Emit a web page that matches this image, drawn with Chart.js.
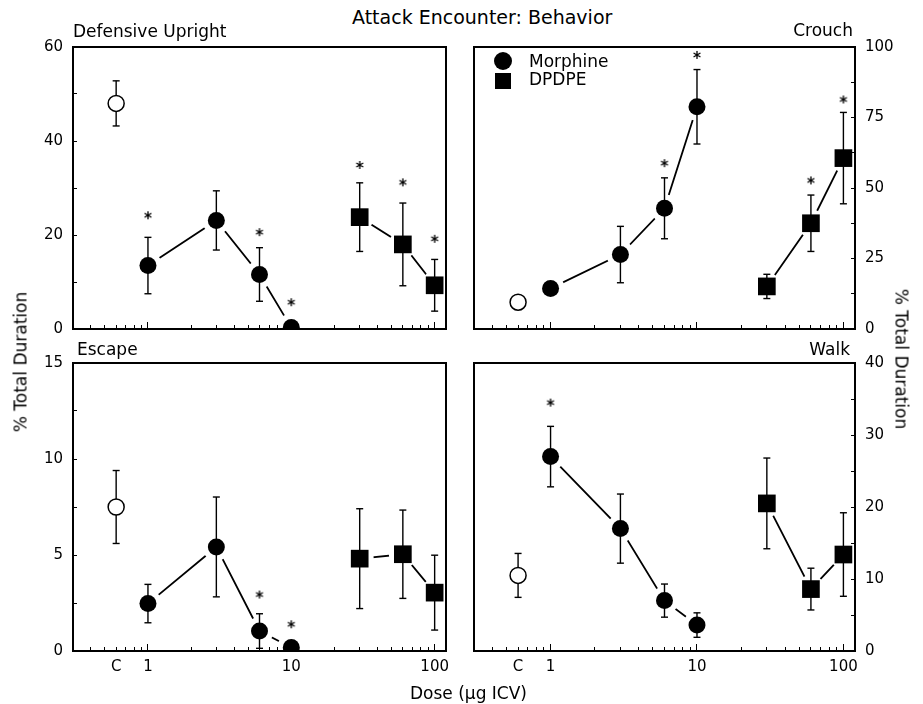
<!DOCTYPE html>
<html>
<head>
<meta charset="utf-8">
<title>Attack Encounter: Behavior</title>
<script src="https://cdn.jsdelivr.net/npm/chart.js@4.4.0/dist/chart.umd.min.js"></script>
<style>
  body { margin: 0; background: #fff; }
  #fig { position: relative; width: 923px; height: 704px; overflow: hidden;
         font-family: "DejaVu Sans", Verdana, sans-serif; color: #000; }
  #fig canvas { position: absolute; }
  .txt { position: absolute; white-space: nowrap; line-height: 1; font-size: 17px; }
  .vert { transform: translate(-50%, -50%) rotate(-90deg); }
  .vert-r { transform: translate(-50%, -50%) rotate(90deg); }
  .mk { position: absolute; background: #000; }
</style>
</head>
<body>
<div id="fig">
  <canvas id="cDef" width="460" height="313" style="left:0;top:30px"></canvas>
  <canvas id="cCrouch" width="463" height="313" style="left:460px;top:30px"></canvas>
  <canvas id="cEscape" width="460" height="359" style="left:0;top:345px"></canvas>
  <canvas id="cWalk" width="463" height="359" style="left:460px;top:345px"></canvas>

  <div class="txt" style="left:352px;top:8px;font-size:19px">Attack Encounter: Behavior</div>
  <div class="txt" style="left:73px;top:23px">Defensive Upright</div>
  <div class="txt" style="right:70px;top:22px">Crouch</div>
  <div class="txt" style="left:77px;top:341px">Escape</div>
  <div class="txt" style="right:73px;top:341px">Walk</div>
  <div class="txt" style="left:410px;top:685px">Dose (µg ICV)</div>
  <div class="txt vert" style="left:21px;top:362px">% Total Duration</div>
  <div class="txt vert-r" style="left:901px;top:359px">% Total Duration</div>

  <!-- legend -->
  <div class="mk" style="left:494px;top:52px;width:18px;height:18px;border-radius:50%"></div>
  <div class="txt" style="left:529px;top:53px">Morphine</div>
  <div class="mk" style="left:495px;top:73px;width:16px;height:16px"></div>
  <div class="txt" style="left:529px;top:71px">DPDPE</div>
</div>

<script>
// doses (µg ICV); control plotted at the "C" position
const morphineDoses = [1, 3, 6, 10];
const dpdpeDoses = [30, 60, 100];
const controlDose = [0.6];

// x axis ticks (log scale), the longer decade ticks, and the labelled ones
const xTicks = [0.4, 0.5, 0.6, 0.7, 0.8, 0.9, 1, 2, 3, 4, 5, 6, 7, 8, 9,
  10, 20, 30, 40, 50, 60, 70, 80, 90, 100];
const xMajorTicks = [1, 10, 100];
const xLabelValues = [0.6, 1, 10, 100];
const xLabelTexts = ['C', '1', '10', '100'];

// Defensive Upright
const defControl = [48.0];
const defControlErr = [4.8];
const defMorphine = [13.5, 23.1, 11.6, 0.3];
const defMorphineErr = [6.0, 6.3, 5.7, 0];
const defDpdpe = [23.8, 18.0, 9.3];
const defDpdpeErr = [7.3, 8.8, 5.5];
const defStarDoses = [1, 6, 10, 30, 60, 100];
const defStarY = [24.2, 20.6, 5.7, 34.9, 31.2, 19.2];

// Crouch
const crouchControl = [9.5];
const crouchControlErr = [0];
const crouchMorphine = [14.4, 26.4, 42.8, 78.8];
const crouchMorphineErr = [0, 10.0, 10.8, 13.2];
const crouchDpdpe = [15.1, 37.5, 60.6];
const crouchDpdpeErr = [4.3, 10.0, 16.2];
const crouchStarDoses = [6, 10, 60, 100];
const crouchStarY = [58.8, 97.2, 52.7, 81.4];

// Escape
const escControl = [7.5];
const escControlErr = [1.9];
const escMorphine = [2.47, 5.42, 1.04, 0.18];
const escMorphineErr = [1.0, 2.6, 0.9, 0];
const escDpdpe = [4.81, 5.04, 3.04];
const escDpdpeErr = [2.6, 2.3, 1.95];
const escStarDoses = [6, 10];
const escStarY = [2.94, 1.39];

// Walk
const walkControl = [10.5];
const walkControlErr = [3.05];
const walkMorphine = [27.0, 17.0, 7.0, 3.6];
const walkMorphineErr = [4.2, 4.8, 2.3, 1.7];
const walkDpdpe = [20.5, 8.6, 13.4];
const walkDpdpeErr = [6.3, 2.9, 5.8];
const walkStarDoses = [1];
const walkStarY = [34.5];

const FONT = '"DejaVu Sans", Verdana, sans-serif';

function pts(xs, ys) {
  return xs.map((x, i) => ({ x: x, y: ys[i] }));
}

// vertical error bars as one broken line: low, high, gap
function errorBars(xs, ys, errs) {
  const out = [];
  xs.forEach((x, i) => {
    if (!errs[i]) return;
    out.push({ x: x, y: ys[i] - errs[i] }, { x: x, y: ys[i] + errs[i] }, { x: x, y: null });
  });
  return out;
}

// small six-spoke asterisk used as point style
function makeStar() {
  const c = document.createElement('canvas');
  c.width = 10; c.height = 10;
  const g = c.getContext('2d');
  g.strokeStyle = '#000';
  g.lineWidth = 1.3;
  g.beginPath();
  for (let k = 0; k < 3; k++) {
    const a = Math.PI / 2 + k * Math.PI / 3;
    g.moveTo(5 + 4 * Math.cos(a), 5 - 4 * Math.sin(a));
    g.lineTo(5 - 4 * Math.cos(a), 5 + 4 * Math.sin(a));
  }
  g.stroke();
  return c;
}
const star = makeStar();

const frame = {
  id: 'frame',
  afterDatasetsDraw(chart) {
    const { ctx, chartArea: a } = chart;
    ctx.save();
    ctx.strokeStyle = '#000';
    ctx.lineWidth = 2;
    ctx.strokeRect(a.left, a.top, a.right - a.left, a.bottom - a.top);
    ctx.restore();
  }
};

function buildPanel(id, p) {
  const errs = errorBars(controlDose, p.control, p.controlErr)
    .concat(errorBars(morphineDoses, p.morphine, p.morphineErr))
    .concat(errorBars(dpdpeDoses, p.dpdpe, p.dpdpeErr));

  const datasets = [
    // connecting lines; the white points leave a gap around each marker
    { label: 'm-line', data: pts(morphineDoses, p.morphine), borderColor: '#000', borderWidth: 1.8,
      pointRadius: 14, pointBackgroundColor: '#fff', pointBorderWidth: 0, order: 4 },
    { label: 'd-line', data: pts(dpdpeDoses, p.dpdpe), borderColor: '#000', borderWidth: 1.8,
      pointRadius: 14, pointBackgroundColor: '#fff', pointBorderWidth: 0, order: 4 },
    { label: 'err', data: errs, borderColor: '#000', borderWidth: 1.4, spanGaps: false,
      pointStyle: 'line', pointRadius: 3.5, pointBorderColor: '#000', pointBorderWidth: 1.4, order: 2 },
    { label: 'Morphine', data: pts(morphineDoses, p.morphine), showLine: false,
      pointStyle: 'circle', pointRadius: 8.5, pointBackgroundColor: '#000', pointBorderWidth: 0, order: 1 },
    { label: 'DPDPE', data: pts(dpdpeDoses, p.dpdpe), showLine: false,
      pointStyle: 'rect', pointRadius: 12.5, pointBackgroundColor: '#000', pointBorderWidth: 0, order: 1 },
    { label: 'Control', data: pts(controlDose, p.control), showLine: false,
      pointStyle: 'circle', pointRadius: 8, pointBackgroundColor: '#fff', pointBorderColor: '#000',
      pointBorderWidth: 1.5, order: 1 },
    { label: 'sig', data: pts(p.starDoses, p.starY), showLine: false,
      pointStyle: star, pointRadius: 5, order: 0 }
  ];

  new Chart(document.getElementById(id), {
    type: 'line',
    data: { datasets: datasets },
    plugins: [frame],
    options: {
      responsive: false,
      animation: false,
      devicePixelRatio: 1,
      events: [],
      layout: { padding: p.padding },
      plugins: { legend: { display: false }, tooltip: { enabled: false } },
      scales: {
        x: {
          type: 'logarithmic',
          min: 0.3,
          max: 120,
          afterBuildTicks: s => { s.ticks = xTicks.map(v => ({ value: v })); },
          afterFit: s => { s.height = p.xHeight; s.paddingLeft = 0; s.paddingRight = 0; },
          grid: { display: true, drawOnChartArea: false, tickLength: -4, color: '#000', z: 1 },
          border: { display: true, color: '#000', width: 2, z: 1 },
          ticks: {
            display: p.xLabels,
            autoSkip: false,
            maxRotation: 0,
            padding: 11,
            color: '#000',
            font: { family: FONT, size: 15 },
            callback: v => {
              const k = xLabelValues.indexOf(v);
              return k < 0 ? '' : xLabelTexts[k];
            }
          }
        },
        // second bottom axis that only draws the longer decade ticks
        xMajor: {
          type: 'logarithmic',
          position: 'bottom',
          weight: -1,
          min: 0.3,
          max: 120,
          afterBuildTicks: s => { s.ticks = xMajorTicks.map(v => ({ value: v })); },
          afterFit: s => { s.height = 0; s.paddingLeft = 0; s.paddingRight = 0; },
          grid: { display: true, drawOnChartArea: false, tickLength: -7, color: '#000', z: 1 },
          border: { display: false },
          ticks: { display: false }
        },
        y: {
          position: p.yPos,
          min: 0,
          max: p.yMax,
          afterFit: s => { s.width = p.yWidth; s.paddingTop = 0; s.paddingBottom = 0; },
          grid: { display: true, drawOnChartArea: false, tickLength: -4, color: '#000', z: 1 },
          border: { display: true, color: '#000', width: 2, z: 1 },
          ticks: {
            stepSize: p.yStep,
            autoSkip: false,
            padding: 14,
            color: '#000',
            font: { family: FONT, size: 15 },
            callback: v => (v % p.yLabelStep === 0 ? String(v) : '')
          }
        }
      }
    }
  });
}

buildPanel('cDef', {
  control: defControl, controlErr: defControlErr,
  morphine: defMorphine, morphineErr: defMorphineErr,
  dpdpe: defDpdpe, dpdpeErr: defDpdpeErr,
  starDoses: defStarDoses, starY: defStarY,
  yMax: 60, yStep: 10, yLabelStep: 20, yPos: 'left', yWidth: 73,
  xLabels: false, xHeight: 11,
  padding: { left: 0, right: 8, top: 17, bottom: 0 }
});

buildPanel('cCrouch', {
  control: crouchControl, controlErr: crouchControlErr,
  morphine: crouchMorphine, morphineErr: crouchMorphineErr,
  dpdpe: crouchDpdpe, dpdpeErr: crouchDpdpeErr,
  starDoses: crouchStarDoses, starY: crouchStarY,
  yMax: 100, yStep: 12.5, yLabelStep: 25, yPos: 'right', yWidth: 68,
  xLabels: false, xHeight: 11,
  padding: { left: 14, right: 0, top: 17, bottom: 0 }
});

buildPanel('cEscape', {
  control: escControl, controlErr: escControlErr,
  morphine: escMorphine, morphineErr: escMorphineErr,
  dpdpe: escDpdpe, dpdpeErr: escDpdpeErr,
  starDoses: escStarDoses, starY: escStarY,
  yMax: 15, yStep: 2.5, yLabelStep: 5, yPos: 'left', yWidth: 73,
  xLabels: true, xHeight: 53,
  padding: { left: 0, right: 8, top: 18, bottom: 0 }
});

buildPanel('cWalk', {
  control: walkControl, controlErr: walkControlErr,
  morphine: walkMorphine, morphineErr: walkMorphineErr,
  dpdpe: walkDpdpe, dpdpeErr: walkDpdpeErr,
  starDoses: walkStarDoses, starY: walkStarY,
  yMax: 40, yStep: 5, yLabelStep: 10, yPos: 'right', yWidth: 68,
  xLabels: true, xHeight: 53,
  padding: { left: 14, right: 0, top: 18, bottom: 0 }
});
</script>
</body>
</html>
